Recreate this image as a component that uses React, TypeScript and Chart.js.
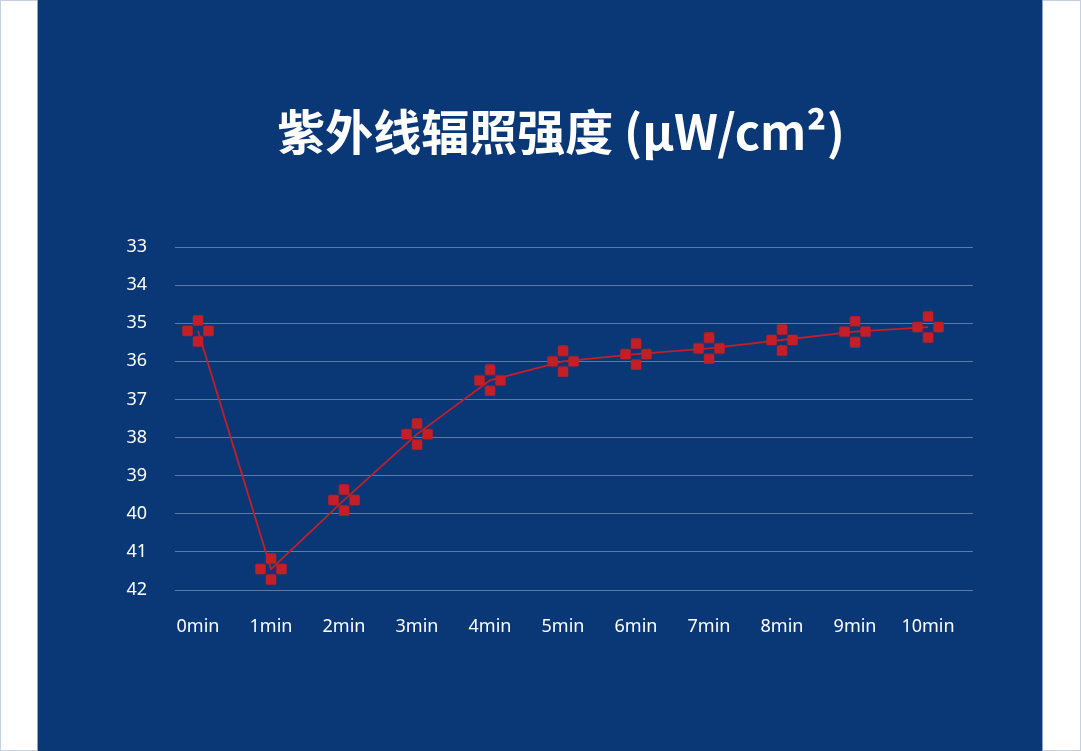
import { useEffect, useRef } from "react"
import { Chart, registerables } from "chart.js"
import type { Plugin } from "chart.js"

Chart.register(...registerables)

const TITLE = "紫外线辐照强度 (μW/cm²)"
const CATEGORIES = ["0min", "1min", "2min", "3min", "4min", "5min", "6min", "7min", "8min", "9min", "10min"]
const IRRADIANCE = [35.2, 41.45, 39.64, 37.91, 36.5, 36.0, 35.81, 35.66, 35.44, 35.22, 35.1]
const Y_MIN = 33
const Y_MAX = 42

const BG = "#0a3877"
const RED = "#c41e26"
const GRID = "#5a7aa8"

// hollow cross marker: four small squares around the point
function makeMarker() {
  const c = document.createElement("canvas")
  c.width = 32
  c.height = 32
  const g = c.getContext("2d")
  if (!g) return c
  g.fillStyle = RED
  const s = 10.5
  const sq = (cx: number, cy: number) => {
    g.beginPath()
    g.roundRect(cx - s / 2, cy - s / 2, s, s, 1.5)
    g.fill()
  }
  sq(16, 5.5)
  sq(5.5, 16)
  sq(26.5, 16)
  sq(16, 26.5)
  return c
}

// title sits a little right of the canvas centre, as in the original
const titlePlugin: Plugin<"line"> = {
  id: "panelTitle",
  afterDraw(chart) {
    const { ctx } = chart
    ctx.save()
    ctx.fillStyle = "#ffffff"
    ctx.font = "bold 48px 'Noto Sans CJK SC', 'Noto Sans', sans-serif"
    ctx.textAlign = "center"
    ctx.textBaseline = "middle"
    ctx.fillText(TITLE, 523, 132)
    ctx.restore()
  },
}

export default function App() {
  const chartRef = useRef<HTMLCanvasElement>(null)
  const chartInstance = useRef<Chart | null>(null)

  useEffect(() => {
    if (!chartRef.current) return
    if (chartInstance.current) chartInstance.current.destroy()
    const ctx = chartRef.current.getContext("2d")
    if (!ctx) return

    const marker = makeMarker()

    chartInstance.current = new Chart(ctx, {
      type: "line",
      data: {
        datasets: [
          {
            data: IRRADIANCE.map((v, i) => ({ x: i, y: v })),
            borderColor: RED,
            borderWidth: 1.8,
            pointStyle: marker,
            pointRadius: 16,
            tension: 0,
          },
        ],
      },
      options: {
        animation: false,
        responsive: false,
        maintainAspectRatio: false,
        layout: { padding: { left: 60, right: 69, top: 247, bottom: 0 } },
        plugins: {
          legend: { display: false },
          tooltip: { enabled: false },
          title: { display: false },
        },
        scales: {
          x: {
            type: "linear",
            min: -0.315,
            max: 10.616,
            grid: { display: false },
            border: { display: false },
            ticks: {
              stepSize: 1,
              includeBounds: false,
              autoSkip: false,
              maxRotation: 0,
              color: "#ffffff",
              padding: 18,
              font: { family: "'Noto Sans', sans-serif", size: 18 },
              callback: (v) => CATEGORIES[Number(v)] ?? "",
            },
            afterFit: (scale) => {
              scale.height = 161
            },
          },
          y: {
            reverse: true,
            min: Y_MIN,
            max: Y_MAX,
            grid: { color: GRID, lineWidth: 1, drawTicks: false },
            border: { display: false },
            ticks: {
              stepSize: 1,
              color: "#ffffff",
              padding: 28,
              font: { family: "'Noto Sans', sans-serif", size: 18 },
            },
            afterFit: (scale) => {
              scale.width = 77
            },
          },
        },
      },
      plugins: [titlePlugin],
    })

    return () => {
      if (chartInstance.current) chartInstance.current.destroy()
      chartInstance.current = null
    }
  }, [])

  return (
    <div
      style={{
        position: "fixed",
        left: 0,
        top: 0,
        width: 1081,
        height: 751,
        background: "#ffffff",
        boxShadow: "inset 0 0 0 1px #c5d0e0",
      }}
    >
      <div
        style={{
          position: "absolute",
          left: 38,
          top: 0,
          width: 1004,
          height: 751,
          background: BG,
          boxShadow: "1px 0 0 #8fa3c4, -1px 0 0 #8fa3c4",
        }}
      >
        <canvas ref={chartRef} width={1004} height={751} style={{ display: "block" }} />
      </div>
    </div>
  )
}
